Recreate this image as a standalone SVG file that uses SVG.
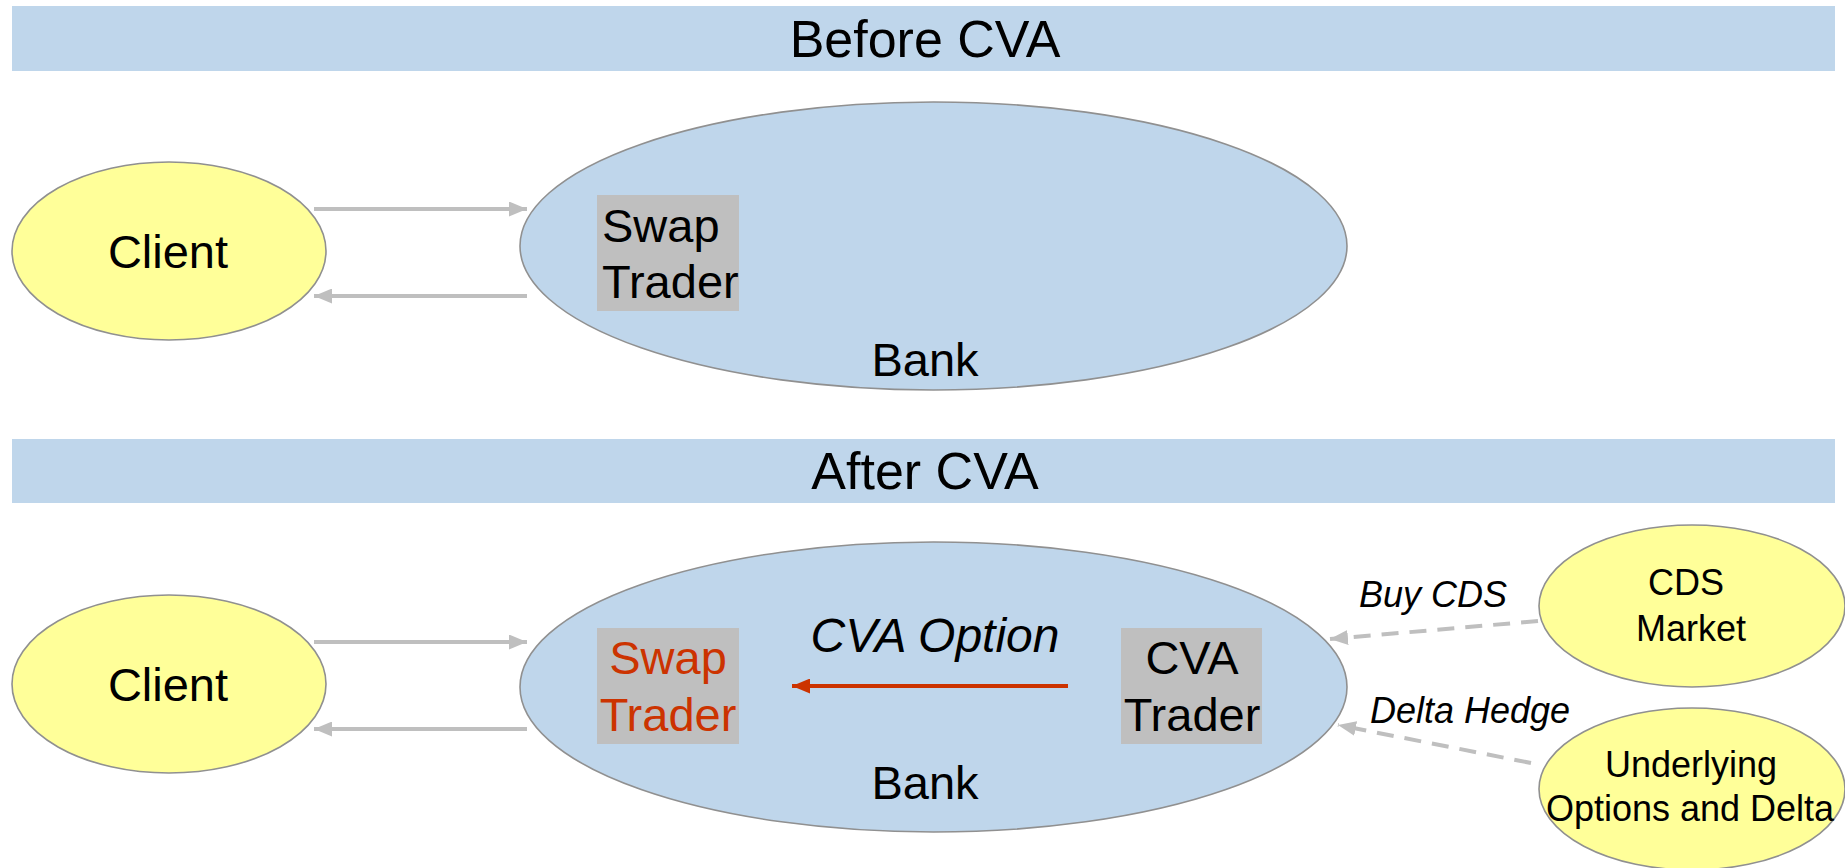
<svg xmlns="http://www.w3.org/2000/svg" width="1845" height="868" viewBox="0 0 1845 868">
<defs>
<style>
text{font-family:"Liberation Sans",Arial,sans-serif;fill:#000}
.bar{fill:#BFD6EB}
.title{font-size:52px;text-anchor:middle}
.lbl{font-size:47px}
.mid{text-anchor:middle}
.sm{font-size:36px;text-anchor:middle}
.it{font-style:italic}
.yel{fill:#FFFF99;stroke:#909090;stroke-width:1.6}
.blu{fill:#BFD6EB;stroke:#909090;stroke-width:1.6}
.box{fill:#BFBFBF}
.red{fill:#CC3300}
.gl{stroke:#BFBFBF;stroke-width:4;fill:none}
.dash{stroke:#BFBFBF;stroke-width:4;fill:none;stroke-dasharray:17 11}
</style>
<marker id="ag" markerUnits="userSpaceOnUse" markerWidth="19" markerHeight="15" refX="18" refY="7.5" orient="auto">
<path d="M0,0 L18,7.5 L0,15 Z" fill="#BFBFBF"/>
</marker>
<marker id="ar" markerUnits="userSpaceOnUse" markerWidth="19" markerHeight="15" refX="18" refY="7.5" orient="auto">
<path d="M0,0 L18,7.5 L0,15 Z" fill="#CC3300"/>
</marker>
</defs>
<rect width="1845" height="868" fill="#fff"/>

<g id="bar-before">
<rect class="bar" x="12" y="6" width="1823" height="65"/>
<text class="title" x="925" y="57">Before CVA</text>
</g>
<g id="bar-after">
<rect class="bar" x="12" y="439" width="1823" height="64"/>
<text class="title" x="925" y="489">After CVA</text>
</g>

<g id="client-before">
<ellipse class="yel" cx="169" cy="251" rx="157" ry="89"/>
<text class="lbl mid" x="168" y="268">Client</text>
</g>
<g id="bank-before">
<ellipse class="blu" cx="933.5" cy="246" rx="413.5" ry="144"/>
<text class="lbl mid" x="925" y="376">Bank</text>
</g>
<g id="swap-before">
<rect class="box" x="597" y="195" width="142" height="116"/>
<text class="lbl" x="602" y="242">Swap</text>
<text class="lbl" x="602" y="298">Trader</text>
</g>

<g id="client-after">
<ellipse class="yel" cx="169" cy="684" rx="157" ry="89"/>
<text class="lbl mid" x="168" y="701">Client</text>
</g>
<g id="bank-after">
<ellipse class="blu" cx="933.5" cy="687" rx="413.5" ry="145"/>
<text class="lbl mid" x="925" y="799">Bank</text>
</g>
<g id="swap-after">
<rect class="box" x="597" y="628" width="142" height="116"/>
<text class="lbl mid red" x="668" y="674">Swap</text>
<text class="lbl mid red" x="668" y="731">Trader</text>
</g>
<g id="cva-trader">
<rect class="box" x="1121" y="628" width="141" height="116"/>
<text class="lbl mid" x="1192" y="674">CVA</text>
<text class="lbl mid" x="1192" y="731">Trader</text>
</g>
<g id="cds-market">
<ellipse class="yel" cx="1692" cy="606" rx="153" ry="81"/>
<text class="sm" x="1686" y="595">CDS</text>
<text class="sm" x="1691" y="641">Market</text>
</g>
<g id="underlying">
<ellipse class="yel" cx="1692" cy="789" rx="153" ry="81"/>
<text class="sm" x="1691" y="777">Underlying</text>
<text class="sm" x="1690" y="821">Options and Delta</text>
</g>

<g id="connectors">
<line class="gl" x1="314" y1="209" x2="527" y2="209" marker-end="url(#ag)"/>
<line class="gl" x1="527" y1="296" x2="314" y2="296" marker-end="url(#ag)"/>
<line class="gl" x1="314" y1="642" x2="527" y2="642" marker-end="url(#ag)"/>
<line class="gl" x1="527" y1="729" x2="314" y2="729" marker-end="url(#ag)"/>
<line x1="1068" y1="686" x2="792" y2="686" stroke="#CC3300" stroke-width="4" marker-end="url(#ar)"/>
<text class="mid it" style="font-size:48px" x="935" y="652">CVA Option</text>
<line class="dash" x1="1538" y1="621" x2="1330" y2="639" marker-end="url(#ag)"/>
<text class="sm it" x="1433" y="607">Buy CDS</text>
<line class="dash" x1="1531" y1="763" x2="1338" y2="725" marker-end="url(#ag)"/>
<text class="sm it" x="1470" y="723">Delta Hedge</text>
</g>
</svg>
